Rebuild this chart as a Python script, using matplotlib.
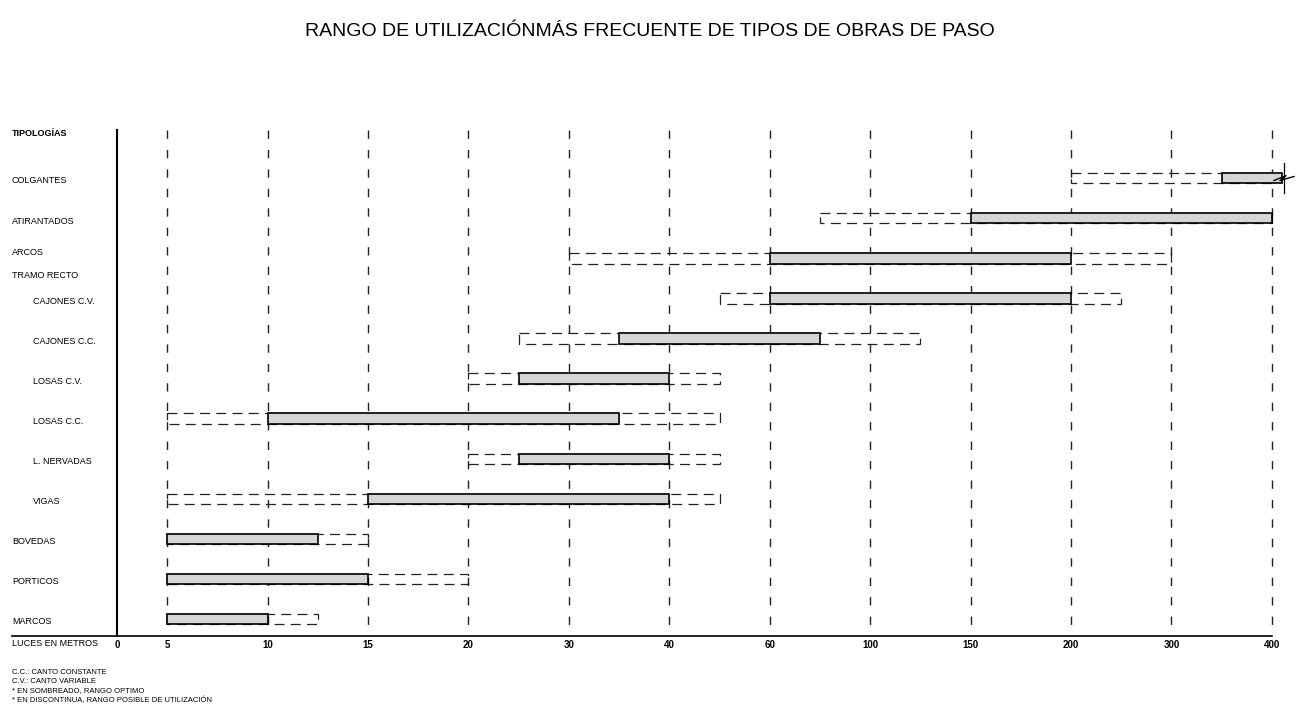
# Rango de utilizacion mas frecuente de tipos de obras de paso
import numpy as np
import matplotlib.pyplot as plt
from matplotlib.lines import Line2D
from matplotlib.transforms import blended_transform_factory

plt.rcParams['font.family'] = ['Liberation Sans', 'DejaVu Sans']

# luces (m) en el eje, espaciado no lineal
luces = [0, 5, 10, 15, 20, 30, 40, 60, 100, 150, 200, 300, 400]
luces_pos = [-0.5, 0, 1, 2, 3, 4, 5, 6, 7, 8, 9, 10, 11]

tipologias = ["COLGANTES", "ATIRANTADOS", "ARCOS", "CAJONES C.V.", "CAJONES C.C.",
              "LOSAS C.V.", "LOSAS C.C.", "L. NERVADAS", "VIGAS", "BOVEDAS",
              "PORTICOS", "MARCOS"]
sangria = [False, False, False, True, True, True, True, True, True, False, False, False]
# rango posible (discontinua)
posible_min = [200, 80, 30, 50, 25, 20, 5, 20, 5, 5, 5, 5]
posible_max = [400, 400, 300, 250, 125, 50, 50, 50, 50, 15, 20, 12.5]
# rango optimo (sombreado)
optimo_min = [350, 150, 60, 60, 35, 25, 10, 25, 15, 5, 5, 5]
optimo_max = [410, 400, 200, 200, 80, 40, 35, 40, 40, 12.5, 15, 10]

notas = ["C.C.: CANTO CONSTANTE", "C.V.: CANTO VARIABLE",
         "* EN SOMBREADO, RANGO OPTIMO",
         "* EN DISCONTINUA, RANGO POSIBLE DE UTILIZACIÓN"]


def forward(v):
    v = np.asarray(v, dtype=float)
    out = np.interp(v, luces, luces_pos)
    return np.where(v > 400, 11 + (v - 400) / 100.0, out)


def inverse(p):
    p = np.asarray(p, dtype=float)
    out = np.interp(p, luces_pos, luces)
    return np.where(p > 11, 400 + (p - 11) * 100.0, out)


W, H = 1307, 717
fig = plt.figure(figsize=(W / 100, H / 100), dpi=100)
ax = fig.add_axes([117 / W, 1 - 636 / H, (1292 - 117) / W, (636 - 130) / H])
ax.set_xscale('function', functions=(forward, inverse))
ax.set_xlim(0, 420)
ax.set_ylim(11.42, -1.2)

for s in ['top', 'right']:
    ax.spines[s].set_visible(False)
ax.spines['left'].set_linewidth(1.5)
ax.spines['bottom'].set_linewidth(1.2)
ax.spines['bottom'].set_bounds(0, 400)
fig.add_artist(Line2D([12 / W, 117 / W], [1 - 636 / H, 1 - 636 / H],
                      color='black', lw=1.2))

ax.set_yticks([])
ax.set_xticks(luces)
ax.set_xticklabels([str(v) for v in luces], fontsize=7, fontweight='bold')
ax.tick_params(axis='x', length=0, pad=3)
ax.minorticks_off()

# lineas verticales discontinuas
ax.vlines(luces[1:], -1.2, 11.42, color='#222222', lw=1.0,
          linestyles=(0, (6, 8)))

h = 0.26
rows = np.arange(len(tipologias))
# rango posible
ax.barh(rows, np.array(posible_max) - np.array(posible_min), left=posible_min,
        height=h, facecolor='none', edgecolor='#222222', lw=0.9,
        linestyle=(0, (8, 5)), zorder=3)
# rango optimo
ax.barh(rows, np.array(optimo_max) - np.array(optimo_min), left=optimo_min,
        height=h, facecolor='#d6d6d6', edgecolor='black', lw=1.2, zorder=4)

# simbolo de corte en colgantes
ax.plot([412, 412], [-0.38, 0.38], color='black', lw=0.9, zorder=5)
ax.plot([402, 414, 408, 422], [0.06, -0.06, 0.06, -0.04], color='black',
        lw=1.0, zorder=5, clip_on=False)

# etiquetas de filas
tr = blended_transform_factory(fig.transFigure, ax.transData)
for i, (name, ind) in enumerate(zip(tipologias, sangria)):
    dy = -0.15 if name == "ARCOS" else 0.07
    ax.text(33 / W if ind else 12 / W, i + dy, name, transform=tr,
            fontsize=6.5, va='center', ha='left')
ax.text(12 / W, 2.42, "TRAMO RECTO", transform=tr, fontsize=6.5,
        va='center', ha='left')
ax.text(12 / W, -1.12, "TIPOLOGÍAS", transform=tr, fontsize=6.5,
        fontweight='bold', va='center', ha='left')
ax.text(12 / W, 1 - 643 / H, "LUCES EN METROS", transform=fig.transFigure,
        fontsize=6.5, va='center', ha='left')

for k, n in enumerate(notas):
    fig.text(12 / W, 1 - (672 + 9.5 * k) / H, n, fontsize=5.5, va='center',
             ha='left')

fig.text(650 / W, 1 - 31 / H,
         "RANGO DE UTILIZACIÓNMÁS FRECUENTE DE TIPOS DE OBRAS DE PASO",
         fontsize=14, ha='center', va='center')

fig.savefig('out.png', dpi=100)
